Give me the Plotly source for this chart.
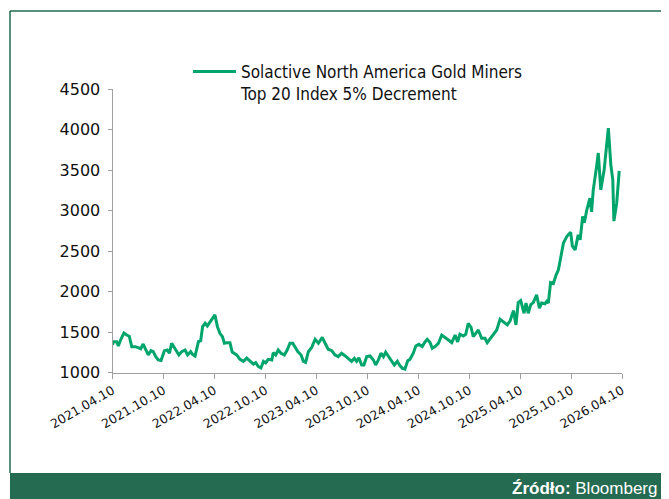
import pandas as pd
import plotly.graph_objects as go

series_name = "Solactive North America Gold Miners<br>Top 20 Index 5% Decrement"
start_date = "2021-04-10"

# days since start_date
day_offsets = [
    0, 3, 15, 21, 30, 41, 51, 60, 69, 81, 92, 101, 110, 119, 128, 138, 146, 155, 164, 174,
    186, 196, 204, 212, 222, 230, 238, 248, 260, 269, 280, 287, 296, 308, 316, 323, 332, 340,
    349, 359, 367, 376, 385, 394, 401, 409, 421, 429,
    445, 457, 469, 481, 493, 505, 513, 523, 532, 541, 549, 558, 571, 576, 585, 594, 604, 616,
    626, 636, 646, 654, 664, 676, 684, 692, 702, 714, 726, 738, 752, 762, 773, 786, 797, 809,
    821, 833, 845, 857, 867, 875, 883, 893, 901, 911, 923, 935, 943, 953, 962, 971, 979, 989,
    1001, 1010, 1021, 1030, 1039, 1048, 1058, 1066, 1078, 1087, 1098, 1110, 1120, 1128, 1138,
    1146, 1156, 1168, 1180, 1192, 1204, 1216, 1228, 1237, 1245, 1257, 1266, 1275, 1285, 1293,
    1302, 1311, 1323, 1335, 1343, 1359, 1377, 1389, 1403, 1415, 1425, 1437, 1446, 1454, 1463,
    1475, 1482, 1490, 1499, 1508, 1520, 1530, 1538, 1550, 1556, 1562, 1570, 1580, 1590, 1598,
    1606, 1616, 1628, 1642, 1648, 1658, 1669, 1676, 1685, 1691, 1700, 1711, 1717, 1723, 1735,
    1741, 1750, 1762, 1777, 1786, 1793, 1797, 1807, 1816,
]

index_values = [
    1342, 1383, 1383, 1330, 1412, 1490, 1465, 1450, 1321, 1321, 1310, 1295, 1354, 1295, 1219, 1272, 1260, 1198, 1157, 1150,
    1272, 1280, 1240, 1363, 1301, 1260, 1219, 1260, 1280, 1219, 1260, 1227, 1206, 1383, 1395, 1568, 1610, 1577,
    1622, 1660, 1713, 1568, 1486, 1445, 1363, 1370, 1370, 1255,
    1219, 1165, 1140, 1180, 1148, 1107, 1124, 1074, 1058, 1140, 1120, 1165, 1157, 1247, 1218, 1280, 1240, 1219,
    1280, 1363, 1363, 1322, 1260, 1219, 1140, 1128, 1260, 1312, 1412, 1363, 1437, 1363, 1289, 1272, 1219, 1198,
    1240, 1210, 1178, 1140, 1178, 1140, 1185, 1095, 1095, 1198, 1206, 1157, 1095, 1157, 1240, 1198, 1252, 1198,
    1140, 1095, 1140, 1087, 1054, 1045, 1148, 1165, 1240, 1330, 1350, 1322, 1380, 1412, 1372,
    1302, 1322, 1363, 1465, 1437, 1404, 1372, 1465, 1380, 1474, 1453, 1474, 1610, 1560, 1445,
    1486, 1527, 1425, 1425, 1370, 1445, 1527, 1660, 1618, 1590, 1640, 1766, 1590, 1865, 1890,
    1733, 1860, 1733, 1840, 1865, 1960, 1795, 1860, 1850, 1880, 1860, 2112, 2100, 2207, 2270,
    2413, 2598, 2680, 2734, 2565, 2515, 2700, 2640, 2927, 2850, 3010, 3154, 2985, 3256, 3544,
    3710, 3256, 3500, 4018, 3564, 3380, 2870, 3092, 3491,
]

tick_dates = ["2021-04-10", "2021-10-10", "2022-04-10", "2022-10-10", "2023-04-10", "2023-10-10",
              "2024-04-10", "2024-10-10", "2025-04-10", "2025-10-10", "2026-04-10"]
tick_labels = ["2021.04.10", "2021.10.10", "2022.04.10", "2022.10.10", "2023.04.10", "2023.10.10",
               "2024.04.10", "2024.10.10", "2025.04.10", "2025.10.10", "2026.04.10"]
y_ticks = [1000, 1500, 2000, 2500, 3000, 3500, 4000, 4500]

source_label = "<b>Źródło:</b> Bloomberg"

n = min(len(day_offsets), len(index_values))
dates = pd.Timestamp(start_date) + pd.to_timedelta(day_offsets[:n], unit="D")

# page has an 8px body margin: the figure is placed at (8, 8) in the 669x499 window
OFF = 8
W, H = 669 - OFF, 499 - OFF


def px(x):
    return (x - OFF) / W


def py(y):
    return 1 - (y - OFF) / H


COND = "Liberation Sans Narrow, DejaVu Sans Condensed, Roboto, sans-serif"
TICKF = "DejaVu Sans, Verdana, sans-serif"
DARK = "#246b52"

fig = go.Figure()
fig.add_trace(go.Scatter(
    x=dates, y=index_values[:n], mode="lines", name=series_name,
    line=dict(color="#00a56b", width=3), showlegend=True,
))

fig.update_layout(
    width=W, height=H,
    margin=dict(l=0, r=0, t=0, b=0, autoexpand=False),
    paper_bgcolor="white", plot_bgcolor="white",
    showlegend=True,
    legend=dict(
        x=px(188), y=py(54), xanchor="left", yanchor="top",
        font=dict(family=COND, size=17, color="#111"),
        bgcolor="rgba(0,0,0,0)", valign="top",
        tracegroupgap=0, itemwidth=43,
    ),
    xaxis=dict(
        domain=[px(112.5), px(622)],
        range=["2021-04-10", "2026-04-10"],
        tickmode="array", tickvals=tick_dates, ticktext=tick_labels,
        tickangle=-30, tickfont=dict(family=TICKF, size=12.5, color="#111"),
        showline=True, linecolor="#a0a0a0", linewidth=1,
        ticks="outside", ticklen=5, tickcolor="#a0a0a0",
        showgrid=False, zeroline=False, automargin=False,
    ),
    yaxis=dict(
        domain=[py(372.7), py(89)],
        range=[1000, 4500],
        tickmode="array", tickvals=y_ticks,
        tickfont=dict(family=TICKF, size=16, color="#111"),
        showline=True, linecolor="#a0a0a0", linewidth=1,
        ticks="outside", ticklen=4, tickcolor="#a0a0a0", ticklabelstandoff=4,
        showgrid=False, zeroline=False, automargin=False,
    ),
    shapes=[
        dict(type="rect", xref="paper", yref="paper", x0=px(10), x1=1, y0=0, y1=py(473),
             fillcolor=DARK, line=dict(width=0), layer="below"),
        dict(type="line", xref="paper", yref="paper", x0=px(10), x1=1, y0=py(11), y1=py(11),
             line=dict(color="#1f6b4f", width=1.5)),
        dict(type="line", xref="paper", yref="paper", x0=px(10), x1=px(10), y0=py(11), y1=py(473),
             line=dict(color="#1f6b4f", width=1.5)),
    ],
    annotations=[
        dict(text=source_label, xref="paper", yref="paper", x=px(659), y=py(488),
             xanchor="right", yanchor="middle", showarrow=False,
             font=dict(family="Liberation Sans, Arial, sans-serif", size=17, color="white")),
    ],
)

fig.write_html("out.html")
